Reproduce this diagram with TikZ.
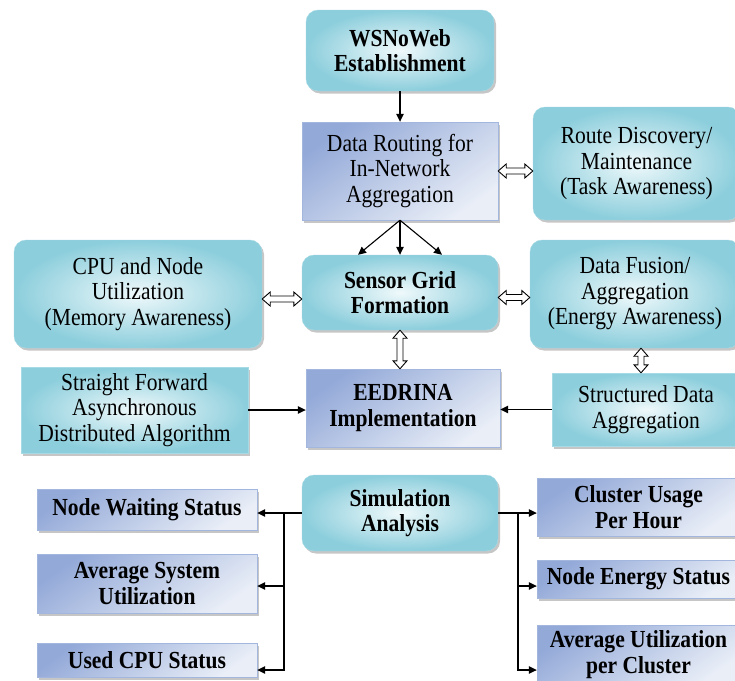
\documentclass[tikz,border=0pt]{standalone}
\usepackage{fontspec}
\setmainfont{Liberation Serif}[FakeStretch=0.88]
\usetikzlibrary{arrows.meta,shadows,calc}

\definecolor{cyandk}{HTML}{8CCEDC}
\definecolor{cyanlt}{HTML}{EFF9FB}
\definecolor{cyanln}{HTML}{A6DAE5}
\definecolor{bluedk}{HTML}{93A9D8}
\definecolor{bluelt}{HTML}{E9EEF7}
\definecolor{blueln}{HTML}{A3B6DE}
\newcommand{\boxfont}{\fontsize{24.5}{25.5}\selectfont}

\begin{document}
\begin{tikzpicture}[x=1pt,y=-1pt,
        box/.style={align=center,font=\boxfont,inner sep=2pt,
            drop shadow={shadow xshift=2pt,shadow yshift=-2.5pt,fill=black!50,opacity=.45}},
        boldtext/.style={font=\boxfont\bfseries},
        cyanbox/.style={box,draw=cyanln,shading=radial,inner color=cyanlt,outer color=cyandk},
        roundbox/.style={cyanbox,rounded corners=12pt},
        bluebox/.style={box,draw=blueln,top color=bluedk,bottom color=bluelt,shading angle=35},
        arr/.style={line width=1.1pt,-{Triangle[length=8pt,width=7.5pt]}},
        hdbl/.style={draw,fill=white,line width=.9pt,line join=miter,to path={
            let \p1=(\tikztostart), \p2=(\tikztotarget) in
            (\x1,\y1) -- (\x1+8pt,\y1+7pt) -- (\x1+8pt,\y1+3pt) -- (\x2-8pt,\y1+3pt) -- (\x2-8pt,\y1+7pt)
            -- (\x2,\y1) -- (\x2-8pt,\y1-7pt) -- (\x2-8pt,\y1-3pt) -- (\x1+8pt,\y1-3pt) -- (\x1+8pt,\y1-7pt) -- cycle}},
        vdbl/.style={draw,fill=white,line width=.9pt,line join=miter,to path={
            let \p1=(\tikztostart), \p2=(\tikztotarget) in
            (\x1,\y1) -- (\x1+7pt,\y1-8pt) -- (\x1+3pt,\y1-8pt) -- (\x1+3pt,\y2+8pt) -- (\x1+7pt,\y2+8pt)
            -- (\x1,\y2) -- (\x1-7pt,\y2+8pt) -- (\x1-3pt,\y2+8pt) -- (\x1-3pt,\y1-8pt) -- (\x1-7pt,\y1-8pt) -- cycle}}]
            \useasboundingbox (0,0) rectangle (735,680);
            \clip (0,0) rectangle (735,680);

            % upper part
            \node[roundbox,boldtext,minimum width=188pt,minimum height=81pt] (est) at (400,50.5) {WSNoWeb\\Establishment};
            \node[bluebox,minimum width=196pt,minimum height=98pt] (route) at (400,171) {Data Routing for\\In-Network\\Aggregation};
            \node[roundbox,minimum width=207pt,minimum height=113pt] (disc) at (636.5,163.5) {Route Discovery/\\Maintenance\\(Task Awareness)};
            \node[roundbox,minimum width=248pt,minimum height=108pt] (cpu) at (138,294) {CPU and Node\\Utilization\\(Memory Awareness)};
            \node[roundbox,boldtext,minimum width=196pt,minimum height=75pt] (grid) at (400,292.5) {Sensor Grid\\Formation};
            \node[roundbox,minimum width=210pt,minimum height=108pt] (fusion) at (635,294) {Data Fusion/\\Aggregation\\(Energy Awareness)};
            \node[cyanbox,minimum width=227pt,minimum height=86pt] (sfw) at (134.5,410) {Straight Forward\\Asynchronous\\Distributed Algorithm};
            \node[bluebox,boldtext,minimum width=194pt,minimum height=78pt] (eed) at (403,408) {EEDRINA\\Implementation};
            \node[cyanbox,minimum width=188pt,minimum height=73pt] (sda) at (646,409.5) {Structured Data\\Aggregation};

            % simulation part
            \node[roundbox,boldtext,minimum width=196pt,minimum height=76pt] (sim) at (400,513) {Simulation\\Analysis};
            \foreach \n/\y/\h/\t in {nws/509.5/41/Node Waiting Status,asu/583.5/59/{Average System\\Utilization},ucpu/660/34/Used CPU Status}{
                \node[bluebox,boldtext,minimum width=220pt,minimum height=\h pt] (\n) at (147,\y) {\t};
            }
            \foreach \n/\y/\h/\t in {cuph/507/58/{Cluster Usage\\Per Hour},nes/579/38/Node Energy Status,auc/654.5/59/{Average Utilization\\per Cluster}}{
                \node[bluebox,boldtext,minimum width=203pt,minimum height=\h pt] (\n) at (638.5,\y) {\t};
            }
            \coordinate (tl) at (284,513);
            \coordinate (tr) at (518,513);

            \draw[arr] (est.south) -- (route.north);
            \foreach \s in {-42,0,42}{
                \draw[arr] (route.south) -- ([xshift=\s pt]grid.north);
            }
            \path[hdbl] (route.east) to (route.east -| disc.west);
            \path[hdbl] ([yshift=-5pt]cpu.east) to ([yshift=-5pt]cpu.east -| grid.west);
            \path[hdbl] ([yshift=-5pt]grid.east) to ([yshift=-5pt]grid.east -| fusion.west);
            \path[vdbl] (grid.south) to (grid.south |- eed.north);
            \path[vdbl] ([xshift=6pt]fusion.south) to ([xshift=6pt]fusion.south |- sda.north);
            \draw[arr] (sfw.east) -- (sfw.east -| eed.west);
            \draw[arr] (sda.west) -- (sda.west -| eed.east);

            \draw[arr] (sim.west) -- (sim.west -| nws.east);
            \draw[arr] (tl) |- ([yshift=-2.5pt]asu.east);
            \draw[arr] (tl) |- ([yshift=-10pt]ucpu.east);
            \draw[arr] (sim.east) -- (sim.east -| cuph.west);
            \draw[arr] (tr) |- ([yshift=-7pt]nes.west);
            \draw[arr] (tr) |- ([yshift=-15.5pt]auc.west);
        \end{tikzpicture}
\end{document}
